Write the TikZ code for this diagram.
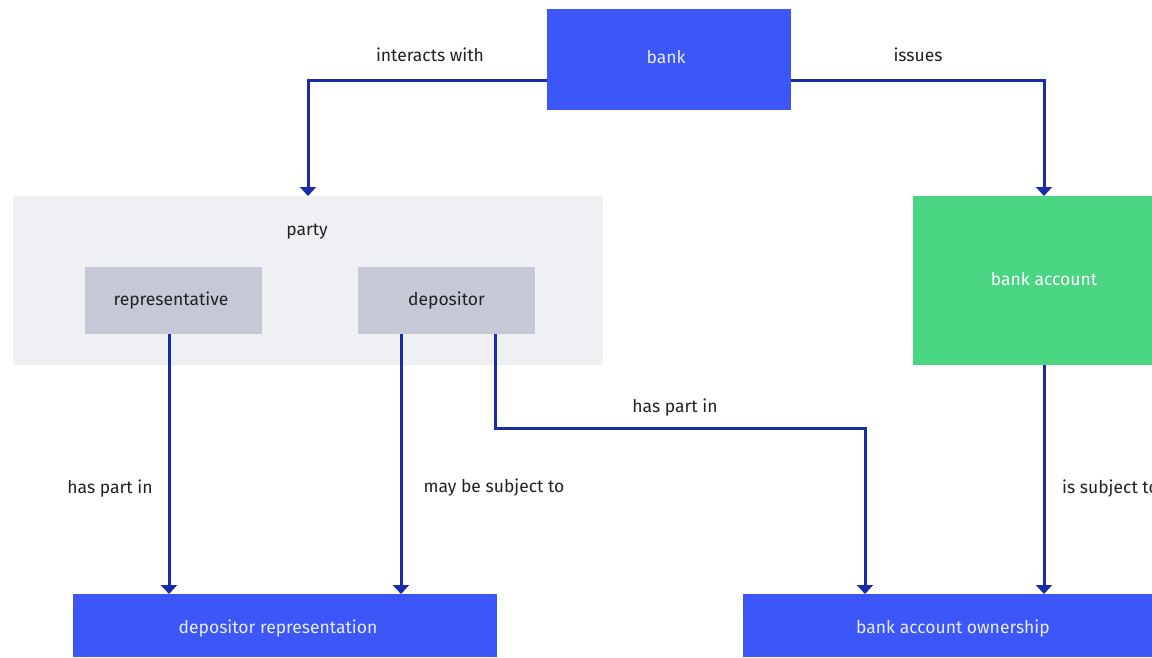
\documentclass[tikz,border=0pt]{standalone}
\usepackage{fontspec}
\setmainfont{Fira Sans}
\usetikzlibrary{arrows.meta,calc}
\definecolor{bblue}{HTML}{3D56F8}
\definecolor{lblue}{HTML}{1A2BAA}
\definecolor{partybg}{HTML}{EFF0F4}
\definecolor{innerbg}{HTML}{C7C8D5}
\definecolor{bgreen}{HTML}{4AD582}
\definecolor{txt}{HTML}{222222}
\definecolor{wtxt}{HTML}{E8EAFF}
\tikzset{
  box/.style={rectangle, inner sep=0pt, outer sep=0pt, font=\fontsize{17.5}{20}\selectfont},
  bluebox/.style={box, fill=bblue, text=wtxt},
  greenbox/.style={box, fill=bgreen, text=white},
  innerbox/.style={box, fill=innerbg, text=txt},
  partybox/.style={box, fill=partybg},
  lbl/.style={inner sep=0pt, text=txt, font=\fontsize{17.5}{20}\selectfont},
  conn/.style={draw=lblue, line width=3pt, -{Triangle[width=16pt,length=9pt]}},
}
\begin{document}
\begin{tikzpicture}[x=1pt,y=-1pt]
\useasboundingbox (0,0) rectangle (1152,657);
\clip (0,0) rectangle (1152,657);
\fill[white] (0,0) rectangle (1152,657);
% nodes
\node[bluebox, minimum width=244pt, minimum height=101pt] (bank) at (669,59.5) {};
\node[lbl, text=wtxt] (banklbl) at (666,57) {bank};
\node[partybox, minimum width=590pt, minimum height=169pt] (party) at (308,280.5) {};
\node[lbl] (partylbl) at (307,232) {party};
\node[innerbox, minimum width=177pt, minimum height=67pt] (rep) at (173.5,300.5) {\hspace*{-5pt}representative};
\node[innerbox, minimum width=177pt, minimum height=67pt] (dep) at (446.5,300.5) {depositor};
\node[greenbox, minimum width=262pt, minimum height=169pt] (acct) at (1044,280.5) {};
\node[lbl, text=white] (acctlbl) at (1044,279) {bank account};
\node[bluebox, minimum width=424pt, minimum height=63pt] (deprep) at (285,625.5) {};
\node[lbl, text=wtxt] (deprepl) at (278,629) {depositor representation};
\node[bluebox, minimum width=420pt, minimum height=63pt] (own) at (953,625.5) {};
\node[lbl, text=wtxt] (ownl) at (953,629) {bank account ownership};
% connectors
\draw[conn] ([yshift=-20.5pt]bank.west) -| (party.north);
\draw[conn] ([yshift=-20.5pt]bank.east) -| (acct.north);
\draw[conn] ([xshift=-4.5pt]rep.south) -- ([xshift=-4.5pt]rep.south |- deprep.north);
\draw[conn] ([xshift=-45.5pt]dep.south) -- ([xshift=-45.5pt]dep.south |- deprep.north);
\coordinate (bend1) at ([xshift=48.5pt]dep.south |- 0,428);
\draw[conn] ([xshift=48.5pt]dep.south) -- (bend1) -| ([xshift=-88pt]own.north);
\draw[conn] (acct.south) -- (acct.south |- own.north);
% labels
\node[lbl] (l1) at (430,55) {interacts with};
\node[lbl] (l2) at (918,55) {issues};
\node[lbl] (l3) at (110,489) {has part in};
\node[lbl] (l4) at (494,488) {may be subject to};
\node[lbl] (l5) at (675,408) {has part in};
\node[lbl, anchor=west] (l6) at (1062,489) {is subject to};
\end{tikzpicture}
\end{document}
